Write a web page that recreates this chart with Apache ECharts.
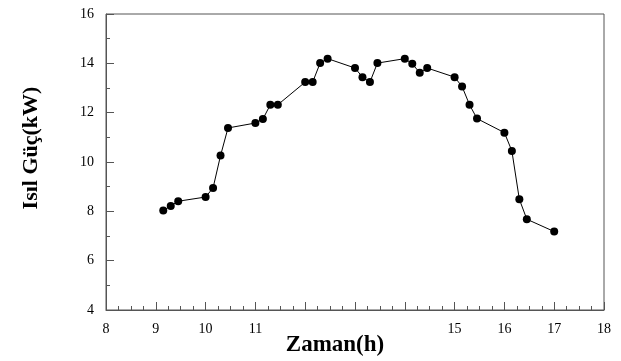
<!DOCTYPE html>
<html>
<head>
<meta charset="utf-8">
<script src="https://cdn.jsdelivr.net/npm/echarts@6/dist/echarts.min.js"></script>
<style>
  html, body { margin: 0; padding: 0; background: #fff; }
  #main { width: 621px; height: 361px; }
</style>
</head>
<body>
<div id="main"></div>
<script>
// saat (h.mm yazımı) ve ısıl güç değerleri
var zaman = [9.15, 9.30, 9.45, 10.00, 10.15, 10.30, 10.45, 11.00, 11.15, 11.30, 11.45,
  12.00, 12.15, 12.30, 12.45, 13.00, 13.15, 13.30, 13.45, 14.00, 14.15, 14.30, 14.45,
  15.00, 15.15, 15.30, 15.45, 16.00, 16.15, 16.30, 16.45, 17.00];
var guc = [8.03, 8.22, 8.41, 8.58, 8.95, 10.26, 11.38, 11.58, 11.74, 12.32, 12.32,
  13.24, 13.24, 14.01, 14.19, 13.81, 13.44, 13.24, 14.01, 14.19, 13.98, 13.62, 13.81,
  13.44, 13.06, 12.32, 11.76, 11.19, 10.45, 8.49, 7.68, 7.18];
var xLabels = [8, 9, 10, 11, 15, 16, 17, 18];

var myChart = echarts.init(document.getElementById('main'));
var font = '"Liberation Serif", "Times New Roman", serif';
var axisCol = '#555';

var option = {
  animation: false,
  grid: {
    left: 106, right: 17, top: 14, bottom: 51,
    outerBoundsMode: 'none',
    show: true, borderColor: axisCol, borderWidth: 1
  },
  xAxis: {
    type: 'value',
    min: 8, max: 18, interval: 1,
    name: 'Zaman(h)',
    nameLocation: 'middle',
    nameGap: 24,
    nameMoveOverlap: false,
    nameTextStyle: { fontFamily: font, fontWeight: 'bold', fontSize: 23, color: '#000', padding: [0, 40, 0, 0] },
    axisLine: { lineStyle: { color: axisCol } },
    axisTick: { inside: true, length: 8, lineStyle: { color: axisCol } },
    minorTick: { show: true, splitNumber: 4, length: 4, lineStyle: { color: axisCol } },
    splitLine: { show: false },
    axisLabel: {
      margin: 12, fontFamily: font, fontSize: 14, color: '#000',
      formatter: function (v) { return xLabels.indexOf(v) >= 0 ? String(v) : ''; }
    }
  },
  yAxis: {
    type: 'value',
    min: 4, max: 16, interval: 2,
    name: 'Isıl Güç(kW)',
    nameLocation: 'middle',
    nameGap: 64,
    nameMoveOverlap: false,
    nameTextStyle: { fontFamily: font, fontWeight: 'bold', fontSize: 22, color: '#000', padding: [0, 0, 0, 28] },
    axisLine: { show: true, lineStyle: { color: axisCol } },
    axisTick: { show: true, inside: true, length: 8, lineStyle: { color: axisCol } },
    minorTick: { show: true, splitNumber: 2, length: 4, lineStyle: { color: axisCol } },
    splitLine: { show: false },
    axisLabel: { margin: 12, fontFamily: font, fontSize: 14, color: '#000' }
  },
  series: [{
    type: 'line',
    data: zaman.map(function (x, i) { return [x, guc[i]]; }),
    symbol: 'circle',
    symbolSize: 8,
    itemStyle: { color: '#000' },
    lineStyle: { color: '#000', width: 1 }
  }]
};
myChart.setOption(option);
</script>
</body>
</html>
